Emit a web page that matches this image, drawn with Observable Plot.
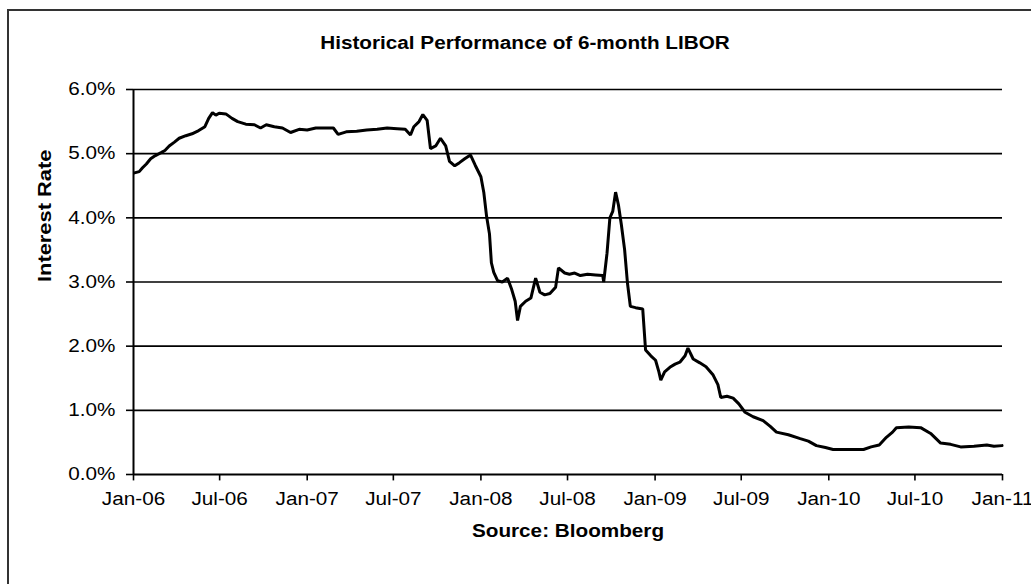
<!DOCTYPE html>
<html><head><meta charset="utf-8">
<script src="https://cdn.jsdelivr.net/npm/d3@7"></script>
<script src="https://cdn.jsdelivr.net/npm/@observablehq/plot@0.6"></script>
<style>
body{margin:0;background:#fff;overflow:hidden;}
#wrap{position:relative;width:1031px;height:584px;overflow:hidden;background:#fff;}
#frame{position:absolute;left:7px;top:9px;width:1034px;height:620px;border:2px solid #333;box-sizing:border-box;pointer-events:none;}
</style></head><body>
<div id="wrap"><div id="chart"></div><div id="frame"></div></div>
<script>
const title = "Historical Performance of 6-month LIBOR";
const yLabel = "Interest Rate";
const source = "Source: Bloomberg";

const dates = [
"2006-01-03","2006-01-13","2006-01-20","2006-01-28","2006-02-06","2006-02-16","2006-03-01","2006-03-08","2006-03-17","2006-03-28",
"2006-04-07","2006-04-21","2006-05-04","2006-05-18","2006-05-31","2006-06-08","2006-06-16","2006-06-23","2006-06-30","2006-07-14",
"2006-07-27","2006-08-08","2006-08-25","2006-09-12","2006-09-25","2006-10-07","2006-10-24","2006-11-10","2006-11-27","2006-12-15",
"2007-01-01","2007-01-19","2007-02-10","2007-02-25","2007-03-07","2007-03-24","2007-04-15","2007-05-06","2007-05-28","2007-06-18",
"2007-07-09","2007-07-26","2007-08-06","2007-08-13","2007-08-24","2007-09-01","2007-09-10","2007-09-17","2007-09-28","2007-10-08",
"2007-10-19","2007-10-27","2007-11-07","2007-11-17","2007-11-28","2007-12-10","2007-12-20","2008-01-01","2008-01-07","2008-01-13",
"2008-01-19","2008-01-23","2008-01-28","2008-02-05","2008-02-15","2008-02-26","2008-03-05","2008-03-13","2008-03-18","2008-03-24",
"2008-04-04","2008-04-15","2008-04-25","2008-05-04","2008-05-14","2008-05-25","2008-06-06","2008-06-12","2008-06-25","2008-07-05",
"2008-07-16","2008-07-28","2008-08-12","2008-08-29","2008-09-13","2008-09-15","2008-09-22","2008-09-28","2008-10-04","2008-10-10",
"2008-10-16","2008-10-22","2008-10-29","2008-11-04","2008-11-10","2008-11-21","2008-12-06","2008-12-12","2008-12-23","2009-01-02",
"2009-01-09","2009-01-13","2009-01-21","2009-02-01","2009-02-12","2009-02-22","2009-03-05","2009-03-11","2009-03-22","2009-04-05",
"2009-04-18","2009-05-03","2009-05-13","2009-05-19","2009-06-01","2009-06-14","2009-06-26","2009-07-09","2009-07-26","2009-08-16",
"2009-08-31","2009-09-13","2009-10-08","2009-11-02","2009-11-19","2009-12-06","2009-12-25","2010-01-10","2010-02-11","2010-03-15",
"2010-03-31","2010-04-17","2010-05-02","2010-05-15","2010-05-23","2010-06-18","2010-07-13","2010-08-03","2010-08-24","2010-09-14",
"2010-10-05","2010-11-02","2010-11-29","2010-12-14","2010-12-31"
];
const rates = [
4.70,4.72,4.78,4.84,4.92,4.97,5.02,5.05,5.12,5.18,
5.24,5.28,5.31,5.36,5.42,5.55,5.64,5.60,5.63,5.62,
5.55,5.50,5.46,5.45,5.40,5.45,5.42,5.40,5.33,5.38,
5.37,5.40,5.40,5.40,5.30,5.34,5.35,5.37,5.38,5.40,
5.39,5.38,5.29,5.42,5.50,5.61,5.52,5.08,5.12,5.24,
5.12,4.88,4.81,4.86,4.92,4.98,4.82,4.64,4.40,4.02,
3.75,3.30,3.15,3.02,3.00,3.06,2.90,2.70,2.40,2.62,
2.70,2.75,3.06,2.84,2.80,2.82,2.92,3.22,3.14,3.12,
3.14,3.10,3.12,3.11,3.10,3.00,3.45,4.00,4.10,4.40,
4.20,3.90,3.50,2.98,2.62,2.60,2.58,1.94,1.85,1.78,
1.60,1.47,1.60,1.67,1.72,1.75,1.85,1.97,1.80,1.74,
1.68,1.55,1.40,1.20,1.22,1.19,1.10,0.97,0.90,0.84,
0.75,0.66,0.62,0.56,0.52,0.45,0.42,0.39,0.39,0.39,
0.43,0.46,0.58,0.66,0.73,0.74,0.73,0.64,0.49,0.47,
0.43,0.44,0.46,0.44,0.45
];
const yTicks = [0,1,2,3,4,5,6];
const xTickDates = ["2006-01-01","2006-07-01","2007-01-01","2007-07-01","2008-01-01","2008-07-01","2009-01-01","2009-07-01","2010-01-01","2010-07-01","2011-01-01"];
const xTickLabels = ["Jan-06","Jul-06","Jan-07","Jul-07","Jan-08","Jul-08","Jan-09","Jul-09","Jan-10","Jul-10","Jan-11"];

const data = dates.map((d, i) => ({date: new Date(d), rate: rates[i]}));
const xTicks = xTickDates.map((d, i) => ({date: new Date(d), label: xTickLabels[i]}));
const x0 = new Date(xTickDates[0]), x1 = new Date(xTickDates[xTickDates.length - 1]);

const FS = 18;
const chart = Plot.plot({
  width: 1031, height: 584,
  marginLeft: 133, marginRight: 29, marginTop: 89, marginBottom: 110,
  style: {fontFamily: "'Liberation Sans', Arial, sans-serif", fontSize: FS + "px", color: "#000", background: "transparent"},
  x: {type: "utc", domain: [x0, x1], axis: null},
  y: {domain: [0, 6], axis: null},
  marks: [
    Plot.ruleY(yTicks.slice(1), {y: d => d, stroke: "#000", strokeWidth: 1.6}),
    Plot.ruleY([0], {y: d => d, stroke: "#000", strokeWidth: 2}),
    Plot.ruleX([x0], {x: d => d, stroke: "#000", strokeWidth: 2}),
    Plot.axisY({ticks: yTicks, tickFormat: d => d.toFixed(1) + "%", tickSize: 7, tickPadding: 11, stroke: "#000", strokeWidth: 1.6, fontSize: FS, label: null}),
    Plot.ruleX(xTicks, {x: "date", y1: 0, y2: -0.1, stroke: "#000", strokeWidth: 1.6}),
    Plot.text(xTicks, {x: "date", text: "label", frameAnchor: "bottom", dy: 25, lineAnchor: "middle", fontSize: FS, fill: "#000"}),
    Plot.line(data, {x: "date", y: "rate", stroke: "#000", strokeWidth: 3, strokeLinejoin: "miter"}),
    Plot.text([title], {text: d => d, frameAnchor: "top", dx: -43, dy: -46, lineAnchor: "middle", fontWeight: "bold", fontSize: FS, fill: "#000"}),
    Plot.text([yLabel], {text: d => d, frameAnchor: "left", dx: -89, rotate: -90, lineAnchor: "middle", fontWeight: "bold", fontSize: 19, fill: "#000"}),
    Plot.text([source], {text: d => d, frameAnchor: "bottom", dy: 57, lineAnchor: "middle", fontWeight: "bold", fontSize: FS, fill: "#000"})
  ]
});
document.getElementById("chart").appendChild(chart);
// widen glyphs horizontally like the reference's text rendering
chart.querySelectorAll("text").forEach(t => {
  const L = t.getComputedTextLength();
  if (L > 0) { t.setAttribute("textLength", (L * 1.15).toFixed(1)); t.setAttribute("lengthAdjust", "spacingAndGlyphs"); }
});
</script>
</body></html>
